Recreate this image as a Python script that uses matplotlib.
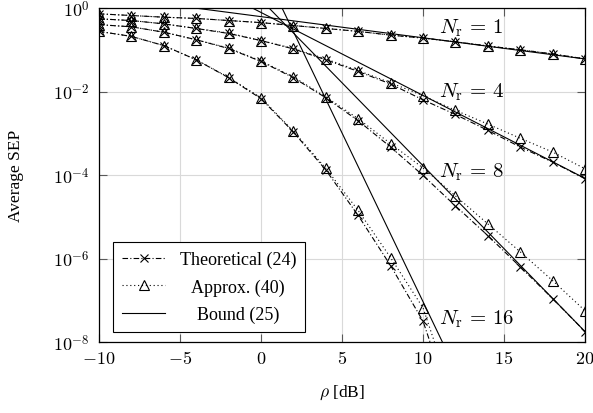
import numpy as np
import matplotlib
matplotlib.use("Agg")
from matplotlib import pyplot as plt
from matplotlib.ticker import FixedLocator, FuncFormatter

plt.rcParams['font.family'] = ['Liberation Serif', 'DejaVu Serif']
plt.rcParams['mathtext.fontset'] = 'cm'

# SNR grid (dB)
snr = [-10, -8, -6, -4, -2, 0, 2, 4, 6, 8, 10, 12, 14, 16, 18, 20]

# log10(SEP)
theo_1 = [-0.14, -0.18, -0.22, -0.25, -0.30, -0.35, -0.42, -0.49, -0.56, -0.65, -0.72, -0.81, -0.91, -1.00, -1.10, -1.22]
appr_1 = [-0.14, -0.18, -0.22, -0.25, -0.30, -0.35, -0.42, -0.49, -0.56, -0.65, -0.72, -0.81, -0.91, -1.00, -1.10, -1.22]
theo_4 = [-0.26, -0.30, -0.38, -0.49, -0.61, -0.78, -0.98, -1.24, -1.52, -1.82, -2.20, -2.55, -2.93, -3.33, -3.69, -4.09]
appr_4 = [-0.26, -0.30, -0.38, -0.49, -0.60, -0.78, -0.97, -1.22, -1.50, -1.79, -2.10, -2.45, -2.78, -3.12, -3.45, -3.85]
theo_8 = [-0.40, -0.45, -0.58, -0.76, -0.97, -1.28, -1.67, -2.15, -2.70, -3.33, -4.01, -4.74, -5.45, -6.20, -6.96, -7.75]
appr_8 = [-0.40, -0.45, -0.58, -0.76, -0.96, -1.27, -1.65, -2.13, -2.65, -3.25, -3.83, -4.50, -5.17, -5.84, -6.53, -7.25]
theo_16 = [-0.56, -0.68, -0.90, -1.24, -1.67, -2.17, -2.97, -3.88, -4.97, -6.17, -7.50, -9.80]
appr_16 = [-0.56, -0.68, -0.90, -1.24, -1.66, -2.15, -2.95, -3.84, -4.85, -5.98, -7.18, -9.50]

# bounds (straight lines), endpoints
bnd_x_1, bnd_1 = [-10, 20], [0.30, -1.22]
bnd_x_4, bnd_4 = [-10, 20], [1.88, -4.08]
bnd_x_8, bnd_8 = [-10, 20], [4.17, -7.75]
bnd_x_16, bnd_16 = [0, 12], [1.05, -8.65]

labels = ["$N_{\\mathrm{r}}\\,=\\,1$", "$N_{\\mathrm{r}}\\,=\\,4$",
          "$N_{\\mathrm{r}}\\,=\\,8$", "$N_{\\mathrm{r}}\\,=\\,16$"]
label_y = [-0.45, -1.99, -3.90, -7.44]

fig = plt.figure(figsize=(5.93, 4.14), dpi=100)
ax = fig.add_axes([99/593, 1-343/414, 486/593, 334/414])

theo_style = dict(color='k', lw=0.8, ls=(0, (5, 2, 1, 2)), marker='x', ms=5.5, mew=0.8)
appr_style = dict(color='k', lw=0.8, ls=(0, (1, 2.5)), marker='^', ms=6.5, mfc='none', mew=0.8)
bnd_style = dict(color='k', lw=0.8, ls='-')

groups = [(theo_1, appr_1, bnd_x_1, bnd_1),
          (theo_4, appr_4, bnd_x_4, bnd_4),
          (theo_8, appr_8, bnd_x_8, bnd_8),
          (theo_16, appr_16, bnd_x_16, bnd_16)]

for i, (t, a, bx, b) in enumerate(groups):
    x = snr[:len(t)]
    lt, = ax.plot(x, 10**np.array(t), **theo_style)
    la, = ax.plot(x, 10**np.array(a), **appr_style)
    lb, = ax.plot(bx, 10**np.array(b), **bnd_style)
    if i == 0:
        handles = [lt, la, lb]

for lab, ly in zip(labels, label_y):
    ax.text(11.0, 10**ly, lab, fontsize=15, ha='left', va='center')

ax.set_yscale('log')
ax.set_xlim(-10, 20)
ax.set_ylim(1e-8, 1)
ax.xaxis.set_major_locator(FixedLocator([-10, -5, 0, 5, 10, 15, 20]))
ax.xaxis.set_major_formatter(FuncFormatter(lambda v, p: "$%d$" % round(v)))
ax.yaxis.set_major_locator(FixedLocator([1e-8, 1e-6, 1e-4, 1e-2, 1]))
ax.yaxis.set_major_formatter(FuncFormatter(lambda v, p: "$10^{%d}$" % round(np.log10(v))))
ax.yaxis.set_minor_locator(FixedLocator([]))
ax.tick_params(which='both', direction='in', top=True, right=True, length=6, width=0.8,
               color='0.35', labelsize=13)
ax.tick_params(axis='x', pad=6)
ax.tick_params(axis='y', pad=7)
ax.grid(True, color='0.85', lw=0.8)
ax.set_axisbelow(True)
for s in ax.spines.values():
    s.set_linewidth(0.9)

ax.set_xlabel(r"$\rho$ [dB]", fontsize=12.5)
ax.xaxis.set_label_coords(0.5, -(384 - 343) / 334)
ax.set_ylabel("Average SEP", fontsize=12.5)
ax.yaxis.set_label_coords(-(99 - 24) / 486, 0.5)

leg = ax.legend(handles, ["Theoretical (24)", "Approx. (40)", "Bound (25)"],
                loc='lower left', bbox_to_anchor=(0.029, 0.03), borderaxespad=0,
                fontsize=13, fancybox=False, framealpha=1, edgecolor='k',
                handlelength=2.4, labelspacing=0.55, borderpad=0.5, handletextpad=0.8)
leg.get_frame().set_linewidth(0.8)

# center legend texts like the original
fig.canvas.draw()
r = fig.canvas.get_renderer()
ws = [t.get_window_extent(r).width for t in leg.get_texts()]
for t, w in zip(leg.get_texts(), ws):
    t.set_position(((max(ws) - w) / 2, 0))

fig.savefig("out.png", dpi=100)
